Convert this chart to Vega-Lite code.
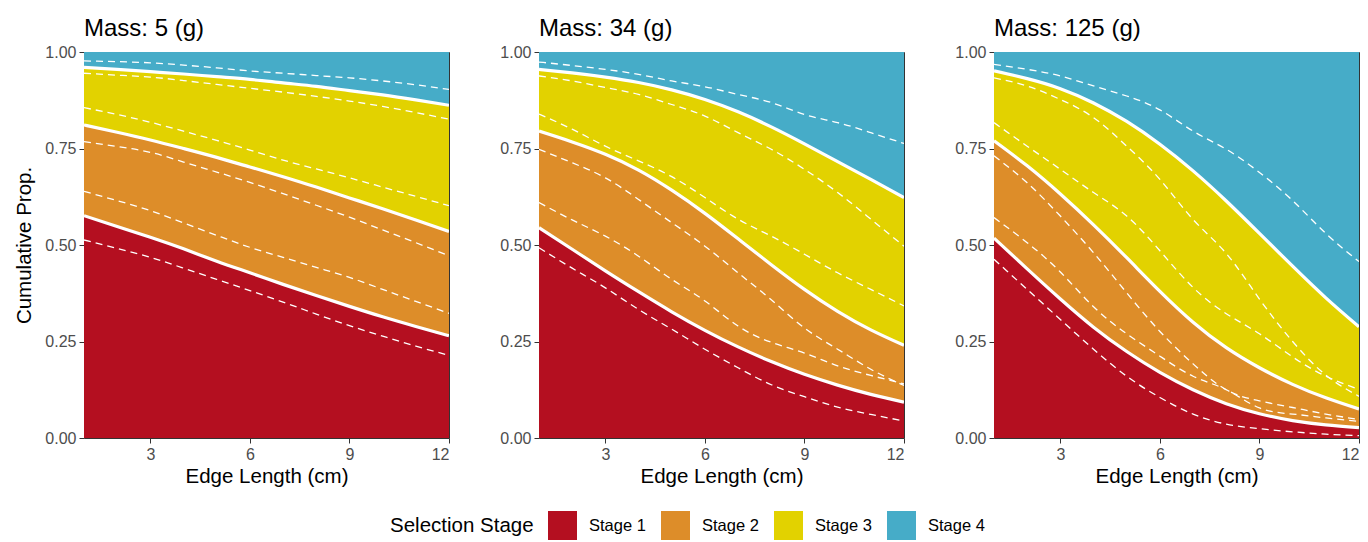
{
  "$schema": "https://vega.github.io/schema/vega-lite/v6.json",
  "padding": {"left": 14, "top": 16, "right": 8, "bottom": 0},
  "datasets": {
    "d": [
      {"m": 5, "x": 1, "b1": 0.576, "b2": 0.811, "b3": 0.960, "l1": 0.513, "u1": 0.639, "l2": 0.768, "u2": 0.856, "l3": 0.945, "u3": 0.977},
      {"m": 5, "x": 2, "b1": 0.548, "b2": 0.792, "b3": 0.955, "l1": 0.491, "u1": 0.615, "l2": 0.755, "u2": 0.838, "l3": 0.940, "u3": 0.975},
      {"m": 5, "x": 3, "b1": 0.520, "b2": 0.772, "b3": 0.949, "l1": 0.468, "u1": 0.589, "l2": 0.740, "u2": 0.818, "l3": 0.935, "u3": 0.972},
      {"m": 5, "x": 4, "b1": 0.490, "b2": 0.750, "b3": 0.943, "l1": 0.440, "u1": 0.557, "l2": 0.715, "u2": 0.795, "l3": 0.926, "u3": 0.966},
      {"m": 5, "x": 5, "b1": 0.458, "b2": 0.727, "b3": 0.936, "l1": 0.411, "u1": 0.525, "l2": 0.689, "u2": 0.771, "l3": 0.916, "u3": 0.959},
      {"m": 5, "x": 6, "b1": 0.428, "b2": 0.702, "b3": 0.929, "l1": 0.382, "u1": 0.494, "l2": 0.662, "u2": 0.746, "l3": 0.906, "u3": 0.951},
      {"m": 5, "x": 7, "b1": 0.398, "b2": 0.677, "b3": 0.920, "l1": 0.352, "u1": 0.468, "l2": 0.633, "u2": 0.720, "l3": 0.896, "u3": 0.945},
      {"m": 5, "x": 8, "b1": 0.369, "b2": 0.650, "b3": 0.911, "l1": 0.321, "u1": 0.442, "l2": 0.603, "u2": 0.697, "l3": 0.885, "u3": 0.939},
      {"m": 5, "x": 9, "b1": 0.341, "b2": 0.622, "b3": 0.900, "l1": 0.291, "u1": 0.416, "l2": 0.572, "u2": 0.674, "l3": 0.873, "u3": 0.933},
      {"m": 5, "x": 10, "b1": 0.314, "b2": 0.594, "b3": 0.889, "l1": 0.264, "u1": 0.385, "l2": 0.539, "u2": 0.650, "l3": 0.859, "u3": 0.925},
      {"m": 5, "x": 11, "b1": 0.289, "b2": 0.565, "b3": 0.876, "l1": 0.238, "u1": 0.354, "l2": 0.506, "u2": 0.626, "l3": 0.843, "u3": 0.915},
      {"m": 5, "x": 12, "b1": 0.265, "b2": 0.535, "b3": 0.862, "l1": 0.214, "u1": 0.323, "l2": 0.472, "u2": 0.602, "l3": 0.826, "u3": 0.903},
      {"m": 34, "x": 1, "b1": 0.545, "b2": 0.795, "b3": 0.955, "l1": 0.493, "u1": 0.610, "l2": 0.748, "u2": 0.839, "l3": 0.938, "u3": 0.974},
      {"m": 34, "x": 2, "b1": 0.489, "b2": 0.767, "b3": 0.946, "l1": 0.440, "u1": 0.565, "l2": 0.713, "u2": 0.800, "l3": 0.925, "u3": 0.965},
      {"m": 34, "x": 3, "b1": 0.433, "b2": 0.735, "b3": 0.935, "l1": 0.389, "u1": 0.523, "l2": 0.674, "u2": 0.756, "l3": 0.908, "u3": 0.955},
      {"m": 34, "x": 4, "b1": 0.379, "b2": 0.694, "b3": 0.921, "l1": 0.333, "u1": 0.471, "l2": 0.618, "u2": 0.718, "l3": 0.890, "u3": 0.942},
      {"m": 34, "x": 5, "b1": 0.327, "b2": 0.642, "b3": 0.902, "l1": 0.282, "u1": 0.411, "l2": 0.558, "u2": 0.677, "l3": 0.864, "u3": 0.925},
      {"m": 34, "x": 6, "b1": 0.279, "b2": 0.582, "b3": 0.877, "l1": 0.230, "u1": 0.355, "l2": 0.497, "u2": 0.623, "l3": 0.834, "u3": 0.910},
      {"m": 34, "x": 7, "b1": 0.236, "b2": 0.516, "b3": 0.845, "l1": 0.182, "u1": 0.290, "l2": 0.428, "u2": 0.567, "l3": 0.791, "u3": 0.890},
      {"m": 34, "x": 8, "b1": 0.198, "b2": 0.449, "b3": 0.806, "l1": 0.138, "u1": 0.248, "l2": 0.358, "u2": 0.523, "l3": 0.748, "u3": 0.869},
      {"m": 34, "x": 9, "b1": 0.165, "b2": 0.385, "b3": 0.762, "l1": 0.107, "u1": 0.220, "l2": 0.285, "u2": 0.476, "l3": 0.696, "u3": 0.838},
      {"m": 34, "x": 10, "b1": 0.137, "b2": 0.328, "b3": 0.716, "l1": 0.080, "u1": 0.187, "l2": 0.230, "u2": 0.428, "l3": 0.636, "u3": 0.817},
      {"m": 34, "x": 11, "b1": 0.113, "b2": 0.280, "b3": 0.670, "l1": 0.061, "u1": 0.162, "l2": 0.178, "u2": 0.385, "l3": 0.567, "u3": 0.791},
      {"m": 34, "x": 12, "b1": 0.093, "b2": 0.240, "b3": 0.623, "l1": 0.044, "u1": 0.140, "l2": 0.136, "u2": 0.342, "l3": 0.497, "u3": 0.763},
      {"m": 125, "x": 1, "b1": 0.518, "b2": 0.770, "b3": 0.951, "l1": 0.463, "u1": 0.571, "l2": 0.731, "u2": 0.817, "l3": 0.933, "u3": 0.968},
      {"m": 125, "x": 2, "b1": 0.438, "b2": 0.705, "b3": 0.931, "l1": 0.385, "u1": 0.506, "l2": 0.661, "u2": 0.756, "l3": 0.912, "u3": 0.955},
      {"m": 125, "x": 3, "b1": 0.360, "b2": 0.632, "b3": 0.905, "l1": 0.307, "u1": 0.430, "l2": 0.575, "u2": 0.696, "l3": 0.877, "u3": 0.938},
      {"m": 125, "x": 4, "b1": 0.287, "b2": 0.552, "b3": 0.868, "l1": 0.230, "u1": 0.340, "l2": 0.480, "u2": 0.636, "l3": 0.830, "u3": 0.912},
      {"m": 125, "x": 5, "b1": 0.224, "b2": 0.467, "b3": 0.820, "l1": 0.160, "u1": 0.270, "l2": 0.376, "u2": 0.575, "l3": 0.756, "u3": 0.886},
      {"m": 125, "x": 6, "b1": 0.170, "b2": 0.380, "b3": 0.761, "l1": 0.105, "u1": 0.212, "l2": 0.276, "u2": 0.485, "l3": 0.670, "u3": 0.850},
      {"m": 125, "x": 7, "b1": 0.125, "b2": 0.300, "b3": 0.692, "l1": 0.062, "u1": 0.160, "l2": 0.192, "u2": 0.390, "l3": 0.566, "u3": 0.795},
      {"m": 125, "x": 8, "b1": 0.089, "b2": 0.234, "b3": 0.614, "l1": 0.036, "u1": 0.125, "l2": 0.125, "u2": 0.322, "l3": 0.478, "u3": 0.748},
      {"m": 125, "x": 9, "b1": 0.063, "b2": 0.182, "b3": 0.530, "l1": 0.024, "u1": 0.078, "l2": 0.096, "u2": 0.270, "l3": 0.360, "u3": 0.688},
      {"m": 125, "x": 10, "b1": 0.045, "b2": 0.139, "b3": 0.445, "l1": 0.016, "u1": 0.062, "l2": 0.079, "u2": 0.210, "l3": 0.250, "u3": 0.615},
      {"m": 125, "x": 11, "b1": 0.034, "b2": 0.104, "b3": 0.363, "l1": 0.010, "u1": 0.052, "l2": 0.062, "u2": 0.160, "l3": 0.163, "u3": 0.530},
      {"m": 125, "x": 12, "b1": 0.027, "b2": 0.075, "b3": 0.288, "l1": 0.006, "u1": 0.043, "l2": 0.048, "u2": 0.126, "l3": 0.108, "u3": 0.457}
    ]
  },
  "spacing": 49,
  "hconcat": [
    {
      "width": 365, "height": 386,
      "title": {"text": "Mass: 5 (g)"},
      "data": {"name": "d"},
      "transform": [{"filter": "datum.m == 5"}],
      "layer": [
        {"mark": {"type": "area", "interpolate": "natural", "clip": true},
         "encoding": {
           "x": {"field": "x", "type": "quantitative", "scale": {"domain": [1, 12], "nice": false}, "axis": {"values": [3, 6, 9, 12], "title": "Edge Length (cm)"}},
           "y": {"field": "b3", "type": "quantitative", "scale": {"domain": [0, 1], "nice": false}, "axis": {"values": [0, 0.25, 0.5, 0.75, 1], "format": ".2f", "title": "Cumulative Prop."}},
           "y2": {"datum": 1},
           "color": {"datum": "Stage 4", "type": "nominal", "scale": {"domain": ["Stage 1", "Stage 2", "Stage 3", "Stage 4"], "range": ["#B40F20", "#DD8D29", "#E2D200", "#46ACC8"]}, "legend": {"title": "Selection Stage", "orient": "none", "legendX": 306, "legendY": 459}}}},
        {"mark": {"type": "area", "interpolate": "natural", "clip": true},
         "encoding": {"x": {"field": "x", "type": "quantitative"}, "y": {"field": "b2", "type": "quantitative"}, "y2": {"field": "b3"}, "color": {"datum": "Stage 3", "type": "nominal"}}},
        {"mark": {"type": "area", "interpolate": "natural", "clip": true},
         "encoding": {"x": {"field": "x", "type": "quantitative"}, "y": {"field": "b1", "type": "quantitative"}, "y2": {"field": "b2"}, "color": {"datum": "Stage 2", "type": "nominal"}}},
        {"mark": {"type": "area", "interpolate": "natural", "clip": true},
         "encoding": {"x": {"field": "x", "type": "quantitative"}, "y": {"field": "b1", "type": "quantitative"}, "y2": {"datum": 0}, "color": {"datum": "Stage 1", "type": "nominal"}}},
        {"transform": [{"fold": ["l1", "u1", "l2", "u2", "l3", "u3"], "as": ["k", "v"]}],
         "mark": {"type": "line", "interpolate": "natural", "clip": true, "color": "white", "strokeWidth": 1.3, "strokeDash": [7, 5]},
         "encoding": {"x": {"field": "x", "type": "quantitative"}, "y": {"field": "v", "type": "quantitative"}, "detail": {"field": "k"}}},
        {"transform": [{"fold": ["b1", "b2", "b3"], "as": ["k", "v"]}],
         "mark": {"type": "line", "interpolate": "natural", "clip": true, "color": "white", "strokeWidth": 3.2},
         "encoding": {"x": {"field": "x", "type": "quantitative"}, "y": {"field": "v", "type": "quantitative"}, "detail": {"field": "k"}}}
      ]
    },
    {
      "width": 365, "height": 386,
      "title": {"text": "Mass: 34 (g)"},
      "data": {"name": "d"},
      "transform": [{"filter": "datum.m == 34"}],
      "layer": [
        {"mark": {"type": "area", "interpolate": "natural", "clip": true},
         "encoding": {
           "x": {"field": "x", "type": "quantitative", "scale": {"domain": [1, 12], "nice": false}, "axis": {"values": [3, 6, 9, 12], "title": "Edge Length (cm)"}},
           "y": {"field": "b3", "type": "quantitative", "scale": {"domain": [0, 1], "nice": false}, "axis": {"values": [0, 0.25, 0.5, 0.75, 1], "format": ".2f", "title": null}},
           "y2": {"datum": 1},
           "color": {"datum": "Stage 4", "type": "nominal"}}},
        {"mark": {"type": "area", "interpolate": "natural", "clip": true},
         "encoding": {"x": {"field": "x", "type": "quantitative"}, "y": {"field": "b2", "type": "quantitative"}, "y2": {"field": "b3"}, "color": {"datum": "Stage 3", "type": "nominal"}}},
        {"mark": {"type": "area", "interpolate": "natural", "clip": true},
         "encoding": {"x": {"field": "x", "type": "quantitative"}, "y": {"field": "b1", "type": "quantitative"}, "y2": {"field": "b2"}, "color": {"datum": "Stage 2", "type": "nominal"}}},
        {"mark": {"type": "area", "interpolate": "natural", "clip": true},
         "encoding": {"x": {"field": "x", "type": "quantitative"}, "y": {"field": "b1", "type": "quantitative"}, "y2": {"datum": 0}, "color": {"datum": "Stage 1", "type": "nominal"}}},
        {"transform": [{"fold": ["l1", "u1", "l2", "u2", "l3", "u3"], "as": ["k", "v"]}],
         "mark": {"type": "line", "interpolate": "natural", "clip": true, "color": "white", "strokeWidth": 1.3, "strokeDash": [7, 5]},
         "encoding": {"x": {"field": "x", "type": "quantitative"}, "y": {"field": "v", "type": "quantitative"}, "detail": {"field": "k"}}},
        {"transform": [{"fold": ["b1", "b2", "b3"], "as": ["k", "v"]}],
         "mark": {"type": "line", "interpolate": "natural", "clip": true, "color": "white", "strokeWidth": 3.2},
         "encoding": {"x": {"field": "x", "type": "quantitative"}, "y": {"field": "v", "type": "quantitative"}, "detail": {"field": "k"}}}
      ]
    },
    {
      "width": 365, "height": 386,
      "title": {"text": "Mass: 125 (g)"},
      "data": {"name": "d"},
      "transform": [{"filter": "datum.m == 125"}],
      "layer": [
        {"mark": {"type": "area", "interpolate": "natural", "clip": true},
         "encoding": {
           "x": {"field": "x", "type": "quantitative", "scale": {"domain": [1, 12], "nice": false}, "axis": {"values": [3, 6, 9, 12], "title": "Edge Length (cm)"}},
           "y": {"field": "b3", "type": "quantitative", "scale": {"domain": [0, 1], "nice": false}, "axis": {"values": [0, 0.25, 0.5, 0.75, 1], "format": ".2f", "title": null}},
           "y2": {"datum": 1},
           "color": {"datum": "Stage 4", "type": "nominal"}}},
        {"mark": {"type": "area", "interpolate": "natural", "clip": true},
         "encoding": {"x": {"field": "x", "type": "quantitative"}, "y": {"field": "b2", "type": "quantitative"}, "y2": {"field": "b3"}, "color": {"datum": "Stage 3", "type": "nominal"}}},
        {"mark": {"type": "area", "interpolate": "natural", "clip": true},
         "encoding": {"x": {"field": "x", "type": "quantitative"}, "y": {"field": "b1", "type": "quantitative"}, "y2": {"field": "b2"}, "color": {"datum": "Stage 2", "type": "nominal"}}},
        {"mark": {"type": "area", "interpolate": "natural", "clip": true},
         "encoding": {"x": {"field": "x", "type": "quantitative"}, "y": {"field": "b1", "type": "quantitative"}, "y2": {"datum": 0}, "color": {"datum": "Stage 1", "type": "nominal"}}},
        {"transform": [{"fold": ["l1", "u1", "l2", "u2", "l3", "u3"], "as": ["k", "v"]}],
         "mark": {"type": "line", "interpolate": "natural", "clip": true, "color": "white", "strokeWidth": 1.3, "strokeDash": [7, 5]},
         "encoding": {"x": {"field": "x", "type": "quantitative"}, "y": {"field": "v", "type": "quantitative"}, "detail": {"field": "k"}}},
        {"transform": [{"fold": ["b1", "b2", "b3"], "as": ["k", "v"]}],
         "mark": {"type": "line", "interpolate": "natural", "clip": true, "color": "white", "strokeWidth": 3.2},
         "encoding": {"x": {"field": "x", "type": "quantitative"}, "y": {"field": "v", "type": "quantitative"}, "detail": {"field": "k"}}}
      ]
    }
  ],
  "config": {
    "font": "Liberation Sans",
    "view": {"stroke": "#333333", "strokeWidth": 1},
    "axis": {"grid": false, "domain": false, "tickColor": "#333333", "tickSize": 5, "labelColor": "#4D4D4D", "labelFontSize": 16, "labelPadding": 3, "titleFontSize": 20.5, "titleFontWeight": "normal", "titleColor": "#000000"},
    "axisX": {"titlePadding": 4},
    "axisY": {"titlePadding": 10},
    "title": {"anchor": "start", "frame": "group", "fontSize": 24, "fontWeight": "normal", "color": "#000000", "offset": 3},
    "legend": {"direction": "horizontal", "titleOrient": "left", "titlePadding": 14, "symbolType": "square", "symbolSize": 841, "symbolStrokeWidth": 0, "symbolOpacity": 1, "labelFontSize": 16.5, "labelColor": "#000000", "titleFontSize": 20.5, "titleFontWeight": "normal", "titleColor": "#000000", "columnPadding": 15, "labelOffset": 12}
  }
}
